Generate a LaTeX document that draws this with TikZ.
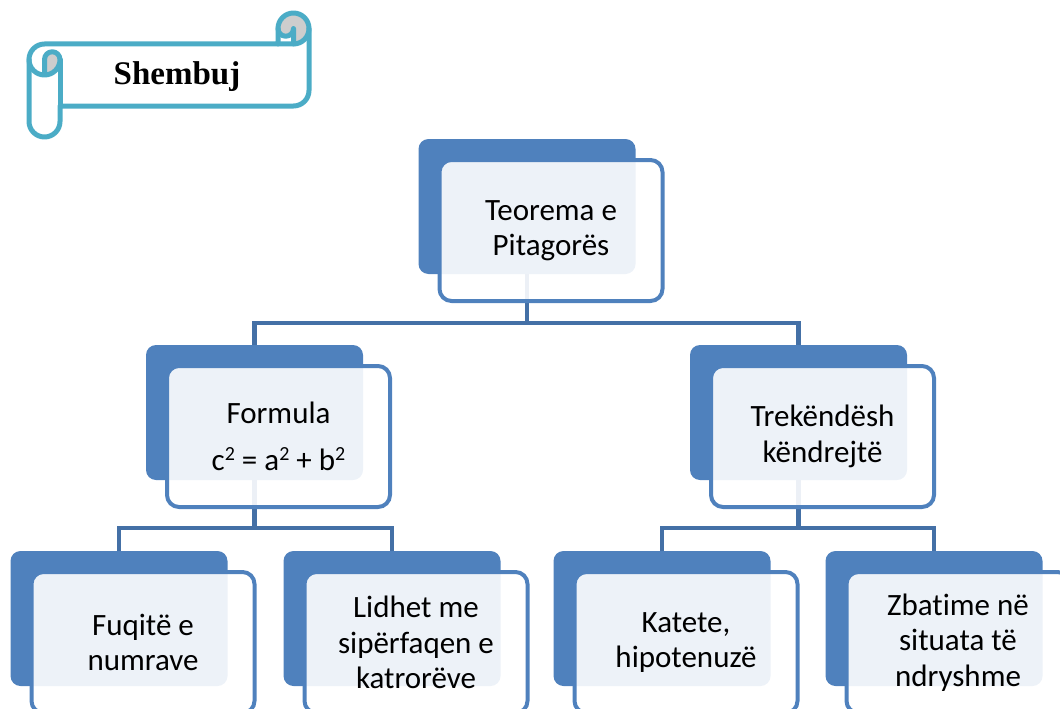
\documentclass[tikz,border=0pt]{standalone}
\usepackage{fontspec}
\setmainfont[Ligatures=NoCommon]{Carlito}
\newfontfamily\bannerfont{Liberation Serif}

\definecolor{scrollteal}{RGB}{75,172,198}
\definecolor{curlgray}{RGB}{205,205,205}
\definecolor{boxblue}{RGB}{79,129,189}
\definecolor{linkblue}{RGB}{68,112,166}

% raised small "2" for the squares in the formula
\newcommand{\sqtwo}{\raisebox{10pt}{\fontsize{20}{20}\selectfont 2}}

\tikzset{
  backbox/.style={fill=boxblue, rounded corners=10pt, minimum width=217pt,
    minimum height=135pt, inner sep=0pt, outer sep=0pt},
  frontbox/.style={draw=boxblue, line width=4pt, fill=white, fill opacity=0.9,
    text opacity=1, rounded corners=12pt, minimum width=223pt,
    minimum height=141pt, inner sep=0pt, align=center,
    font=\fontsize{31}{35.5}\selectfont},
  link/.style={draw=linkblue, line width=4.5pt},
  scrollline/.style={draw=scrollteal, line width=5pt, line join=round, line cap=round},
  curl/.style={fill=curlgray}
}

\begin{document}
\begin{tikzpicture}[x=1pt,y=-1pt]
\useasboundingbox (0,0) rectangle (1060,709);
\clip (0,0) rectangle (1060,709);

% ---- scroll banner ----
\fill[curl] (44.5,75) arc[start angle=90, delta angle=-90, radius=15.5]
  arc[start angle=0, delta angle=-180, radius=7.75] -- cycle;
\fill[curl] (293.5,44) arc[start angle=90, delta angle=-270, radius=15.5]
  arc[start angle=180, delta angle=-180, radius=7.75] -- cycle;
\draw[scrollline] (29,59.5) arc[start angle=180, delta angle=90, radius=15.5]
  -- (278,44) -- (278,28.5) arc[start angle=180, delta angle=180, radius=15.5]
  -- (309,90.5) arc[start angle=0, delta angle=90, radius=15.5]
  -- (60,106) -- (60,121.5) arc[start angle=0, delta angle=180, radius=15.5]
  -- cycle;
\draw[scrollline] (278,44) -- (293.5,44) arc[start angle=90, delta angle=-90, radius=15.5];
\draw[scrollline] (293.5,44) -- (293.5,28.5) arc[start angle=0, delta angle=180, radius=7.75];
\draw[scrollline] (44.5,75) -- (44.5,59.5) arc[start angle=180, delta angle=180, radius=7.75]
  arc[start angle=0, delta angle=180, radius=15.5];
\draw[scrollline] (60,59.5) -- (60,106);
\node[font=\bannerfont\bfseries\fontsize{33}{38}\selectfont] (banner) at (177,77) {Shembuj};

% ---- back plates ----
\node[backbox] (topB) at (527,206.5) {};
\node[backbox] (leftB) at (254.5,412.5) {};
\node[backbox] (rightB) at (798.5,412.5) {};
\node[backbox] (b1B) at (119,618.5) {};
\node[backbox] (b2B) at (392,618.5) {};
\node[backbox] (b3B) at (662,618.5) {};
\node[backbox] (b4B) at (934,618.5) {};

% ---- connectors ----
\coordinate (j1) at (527,323);
\coordinate (j2) at (254.5,528);
\coordinate (j3) at (798.5,528);
\draw[link] (topB.south) -- (j1);
\draw[link] (leftB.north) |- (j1) -| (rightB.north);
\draw[link] (leftB.south) -- (j2);
\draw[link] (b1B.north) |- (j2) -| (b2B.north);
\draw[link] (rightB.south) -- (j3);
\draw[link] (b3B.north) |- (j3) -| (b4B.north);

% ---- front cards with text ----
\node[frontbox] (top) at (551,230.5) {Teorema e\\Pitagorës};
\node[frontbox] (left) at (278.5,436.5) {Formula\\[11pt]c\sqtwo{} = a\sqtwo{} + b\sqtwo};
\node[frontbox] (right) at (822.5,436.5) {Trekëndësh\\këndrejtë};
\node[frontbox] (b1) at (143,642.5) {Fuqitë e\\numrave};
\node[frontbox] (b2) at (416,642.5) {Lidhet me\\sipërfaqen e\\katrorëve};
\node[frontbox] (b3) at (686,642.5) {Katete,\\hipotenuzë};
\node[frontbox] (b4) at (958,642.5) {Zbatime në\\situata të\\ndryshme};
\end{tikzpicture}
\end{document}
